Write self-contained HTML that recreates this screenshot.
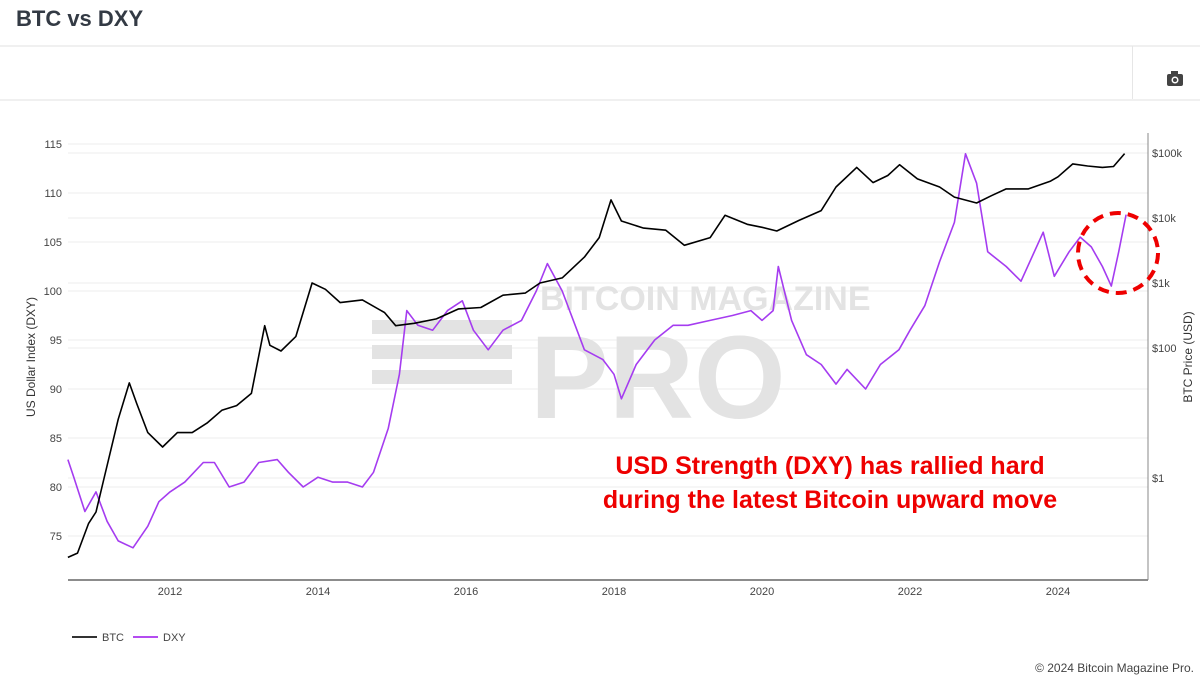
<!DOCTYPE html>
<html><head><meta charset="utf-8"><style>
body{margin:0;width:1200px;height:683px;background:#fff;font-family:"Liberation Sans",sans-serif;overflow:hidden;position:relative}
.title{position:absolute;left:16px;top:6px;font-size:22px;font-weight:bold;color:#333a44}
.hl{position:absolute;left:0;width:1200px;height:2px;background:#f0f0f0}
</style></head><body>
<div class="title">BTC vs DXY</div>
<div class="hl" style="top:45px"></div>
<div class="hl" style="top:99px"></div>
<div style="position:absolute;left:1132px;top:46px;width:1px;height:53px;background:#e6e6e6"></div>
<svg width="1200" height="683" style="position:absolute;left:0;top:0" id="chart">
<g><rect x="1167" y="74" width="16" height="12" rx="2" fill="#444"/><rect x="1171" y="71" width="7" height="4" fill="#444"/><circle cx="1175" cy="80" r="3.5" fill="#fff"/><circle cx="1175" cy="80" r="2" fill="#444"/></g>
<g id="grid"></g>
<g fill="#e3e3e3" font-weight="bold">
<text x="540" y="310" font-size="34">BITCOIN MAGAZINE</text>
<text x="530" y="418" font-size="118">PRO</text>
<rect x="372" y="320" width="140" height="14"/><rect x="372" y="345" width="140" height="14"/><rect x="372" y="370" width="140" height="14"/>
</g>
<g id="series"></g>
<g id="axes"></g>
<text x="830" y="474" font-size="25" font-weight="bold" fill="#ee0000" text-anchor="middle">USD Strength (DXY) has rallied hard</text>
<text x="830" y="508" font-size="25" font-weight="bold" fill="#ee0000" text-anchor="middle">during the latest Bitcoin upward move</text>
<circle cx="1118" cy="253" r="40" fill="none" stroke="#ee0000" stroke-width="4" stroke-dasharray="11,7"/>
<g>
<line x1="72" y1="637" x2="97" y2="637" stroke="#333" stroke-width="2"/><text x="102" y="641" font-size="11" fill="#444">BTC</text>
<line x1="133" y1="637" x2="158" y2="637" stroke="#b44cf0" stroke-width="2"/><text x="163" y="641" font-size="11" fill="#444">DXY</text>
</g>
<text x="1194" y="672" font-size="12" fill="#444" text-anchor="end">© 2024 Bitcoin Magazine Pro.</text>
</svg>
<script>
const btcYears=[2010.62,2010.75,2010.9,2011.0,2011.1,2011.3,2011.45,2011.55,2011.7,2011.9,2012.1,2012.3,2012.5,2012.7,2012.9,2013.1,2013.28,2013.35,2013.5,2013.7,2013.92,2014.1,2014.3,2014.6,2014.9,2015.05,2015.3,2015.6,2015.9,2016.2,2016.5,2016.8,2017.0,2017.3,2017.6,2017.8,2017.96,2018.1,2018.4,2018.7,2018.95,2019.3,2019.5,2019.8,2020.0,2020.2,2020.5,2020.8,2021.0,2021.28,2021.5,2021.7,2021.86,2022.1,2022.4,2022.6,2022.9,2023.1,2023.3,2023.6,2023.9,2024.0,2024.2,2024.4,2024.6,2024.75,2024.9];
const btcValues=[0.06,0.07,0.2,0.3,0.9,8,29,14,5,3,5,5,7,11,13,20,220,110,90,150,1000,800,500,550,350,220,240,280,400,420,650,700,1000,1200,2500,5000,19000,9000,7000,6500,3800,5000,11000,8000,7200,6300,9200,13000,30000,60000,35000,45000,66000,40000,30000,21000,17000,22000,28000,28000,37000,43000,68000,63000,60000,62000,98000];
const dxyYears=[2010.62,2010.7,2010.85,2011.0,2011.15,2011.3,2011.5,2011.7,2011.85,2012.0,2012.2,2012.45,2012.6,2012.8,2013.0,2013.2,2013.45,2013.6,2013.8,2014.0,2014.2,2014.4,2014.6,2014.75,2014.95,2015.1,2015.2,2015.35,2015.55,2015.75,2015.95,2016.1,2016.3,2016.5,2016.75,2016.95,2017.1,2017.3,2017.6,2017.85,2018.0,2018.1,2018.3,2018.55,2018.8,2019.0,2019.3,2019.6,2019.85,2020.0,2020.15,2020.22,2020.4,2020.6,2020.8,2021.0,2021.15,2021.4,2021.6,2021.85,2022.0,2022.2,2022.4,2022.6,2022.75,2022.9,2023.05,2023.3,2023.5,2023.8,2023.95,2024.15,2024.3,2024.45,2024.6,2024.72,2024.82,2024.92];
const dxyValues=[82.8,81,77.5,79.5,76.5,74.5,73.8,76,78.5,79.5,80.5,82.5,82.5,80,80.5,82.5,82.8,81.5,80,81,80.5,80.5,80,81.5,86,91.5,98,96.5,96,98,99,96,94,96,97,100,102.8,100,94,93,91.5,89,92.5,95,96.5,96.5,97,97.5,98,97,98,102.5,97,93.5,92.5,90.5,92,90,92.5,94,96,98.5,103,107,114,111,104,102.5,101,106,101.5,104,105.5,104.5,102.5,100.5,104,107.8];
const dxyTicks=[75,80,85,90,95,100,105,110,115];
const btcTicks=[1,100,1000,10000,100000];
const btcTickLabels=["$1","$100","$1k","$10k","$100k"];
const yearTicks=[2012,2014,2016,2018,2020,2022,2024];
const X0=68,X1=1148,YT=133,YB=580;
const x=t=>170+(t-2012)*74;
const yL=v=>144+(115-v)*9.8;
const yR=v=>153+(5-Math.log10(v))*65;
const NS="http://www.w3.org/2000/svg";
function mk(tag,attrs,parent,txt){const e=document.createElementNS(NS,tag);for(const k in attrs)e.setAttribute(k,attrs[k]);if(txt!==undefined)e.textContent=txt;parent.appendChild(e);return e;}
const grid=document.getElementById('grid'),axes=document.getElementById('axes'),ser=document.getElementById('series');
dxyTicks.forEach(v=>{const l=mk('line',{x1:X0,x2:X1,y1:yL(v),y2:yL(v),stroke:'#eeeeee'},grid);


const t=mk('text',{x:62,y:yL(v)+4,'font-size':11,fill:'#444','text-anchor':'end'},axes,String(v));

});
btcTicks.forEach((v,i)=>{const l=mk('line',{x1:X0,x2:X1,y1:yR(v),y2:yR(v),stroke:'#eeeeee'},grid);


const t=mk('text',{x:1152,y:yR(v)+4,'font-size':11,fill:'#444'},axes,btcTickLabels[i]);

});
yearTicks.forEach(y=>{const t=mk('text',{x:x(y),y:595,'font-size':11,fill:'#444','text-anchor':'middle'},axes,String(y));

});
const xa=mk('line',{x1:X0,x2:X1,y1:YB,y2:YB,stroke:'#666','stroke-width':1.5},axes);


const ya=mk('line',{x1:X1,x2:X1,y1:YT,y2:YB,stroke:'#888','stroke-width':1},axes);


const lt=mk('text',{x:0,y:0,'font-size':12,fill:'#333','text-anchor':'middle',transform:'translate(35,357) rotate(-90)'},axes,'US Dollar Index (DXY)');


const rt=mk('text',{x:0,y:0,'font-size':12,fill:'#333','text-anchor':'middle',transform:'translate(1192,357) rotate(-90)'},axes,'BTC Price (USD)');


const pd=dxyYears.map((t,i)=>(i?'L':'M')+x(t).toFixed(1)+','+yL(dxyValues[i]).toFixed(1)).join('');
const p1=mk('path',{d:pd,fill:'none',stroke:'#a53cf0','stroke-width':1.6,'stroke-linejoin':'round'},ser);


const pb=btcYears.map((t,i)=>(i?'L':'M')+x(t).toFixed(1)+','+yR(btcValues[i]).toFixed(1)).join('');
const p2=mk('path',{d:pb,fill:'none',stroke:'#000','stroke-width':1.6,'stroke-linejoin':'round'},ser);


</script>
</body></html>
